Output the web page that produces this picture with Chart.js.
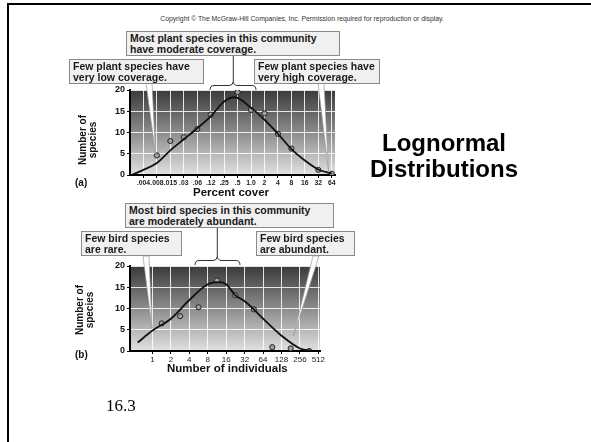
<!DOCTYPE html>
<html>
<head>
<meta charset="utf-8">
<script src="https://cdn.jsdelivr.net/npm/chart.js@4"></script>
<style>
  body { margin: 0; background: #fff; width: 591px; height: 442px; overflow: hidden; position: relative; font-family: "Liberation Sans", Arial, sans-serif; }
  .abs { position: absolute; }
  canvas { position: absolute; }
  .box { position: absolute; background: #f0f0f0; border: 1px solid #8a8a8a; box-sizing: border-box; font-weight: bold; font-size: 10.5px; line-height: 11px; color: #1a1a1a; padding: 1px 3px; white-space: nowrap; }
  .lbl { position: absolute; font-weight: bold; color: #111; white-space: nowrap; }
  .ytitle { position: absolute; font-weight: bold; font-size: 10px; line-height: 10px; text-align: center; color: #111; transform: rotate(-90deg); white-space: nowrap; }
</style>
</head>
<body>
<div class="abs" style="left:7px;top:3px;width:584px;height:2px;background:#000"></div>
<div class="abs" style="left:7px;top:3px;width:2px;height:439px;background:#000"></div>

<div class="lbl" style="left:155px;top:15px;width:294px;text-align:center;font-size:6.8px;font-weight:normal;color:#333">Copyright © The McGraw-Hill Companies, Inc. Permission required for reproduction or display.</div>

<canvas id="plantChart" width="290" height="167" style="left:60px;top:20px"></canvas>
<canvas id="birdChart" width="275" height="163" style="left:60px;top:200px"></canvas>

<svg class="abs" style="left:0;top:0" width="591" height="442">
  <g fill="#fff" stroke="#9a9a9a" stroke-width="0.7">
    <polygon points="146,83 152,83 155.5,154"/>
    <polygon points="318,83 324,83 328.5,171"/>
    <polygon points="143,256 149,256 152,328"/>
    <polygon points="313,256 319,256 293.5,336"/>
  </g>
  <g fill="none" stroke="#333" stroke-width="1">
    <path d="M210,90 Q210,85.5 214,85.5 L229,85.5 Q233,85.5 233.3,81.5 Q233.6,85.5 238,85.5 L252,85.5 Q256,85.5 256,90"/>
    <line x1="233.3" y1="55" x2="233.3" y2="81.5"/>
    <path d="M195,265 Q195,260.5 199,260.5 L213,260.5 Q217,260.5 217.3,256.5 Q217.6,260.5 222,260.5 L236,260.5 Q240,260.5 240,265"/>
    <line x1="217.3" y1="227" x2="217.3" y2="256.5"/>
  </g>
</svg>

<div class="box" style="left:126px;top:31px;width:214px;height:25px">Most plant species in this community<br>have moderate coverage.</div>
<div class="box" style="left:69px;top:59px;width:135px;height:25px">Few plant species have<br>very low coverage.</div>
<div class="box" style="left:254px;top:59px;width:126px;height:25px">Few plant species have<br>very high coverage.</div>

<div class="box" style="left:125px;top:203px;width:209px;height:25px">Most bird species in this community<br>are moderately abundant.</div>
<div class="box" style="left:81px;top:231px;width:101px;height:25px">Few bird species<br>are rare.</div>
<div class="box" style="left:256px;top:231px;width:99px;height:25px">Few bird species<br>are abundant.</div>

<div class="ytitle" style="left:58px;top:130px;width:60px">Number of<br>species</div>
<div class="lbl" style="left:75px;top:177px;font-size:10px">(a)</div>
<div class="lbl" style="left:193px;top:186px;font-size:11.5px">Percent cover</div>

<div class="ytitle" style="left:55px;top:300px;width:60px">Number of<br>species</div>
<div class="lbl" style="left:75px;top:349px;font-size:10px">(b)</div>
<div class="lbl" style="left:167px;top:362px;font-size:11.5px">Number of individuals</div>

<div class="lbl" style="left:341px;top:130px;width:206px;text-align:center;font-size:24px;line-height:26px;color:#000">Lognormal<br>Distributions</div>

<div class="abs" style="left:106px;top:396px;font-family:'Liberation Serif','Times New Roman',serif;font-size:17px;color:#000">16.3</div>

<script>
// (a) plants: percent cover classes (log2 steps)
const coverLabels = ['.004', '.008', '.015', '.03', '.06', '.12', '.25', '.5', '1.0', '2', '4', '8', '16', '32', '64'];
const plantPointX = [1, 2, 3, 4, 5, 7, 8, 9, 10, 11, 13, 14];
const plantPointY = [4.6, 8, 8.9, 10.8, 14.2, 19.5, 15.3, 14.5, 9.7, 6.2, 1.2, 0.3];
const plantCurveX = [-0.9, 0, 1, 2, 3, 4, 5, 6, 6.8, 8, 9, 10, 11, 12, 13, 14];
const plantCurveY = [0, 1.2, 2.8, 5.8, 8.4, 11, 13.8, 17.3, 18.3, 15.8, 13, 9.7, 6.1, 3.4, 1.3, 0.3];

// (b) birds: number of individuals (log2 steps)
const birdLabels = ['1', '2', '4', '8', '16', '32', '64', '128', '256', '512'];
const birdPointX = [0.5, 1.5, 2.5, 3.5, 4.5, 5.5, 6.5, 7.5, 8.5];
const birdPointY = [6.5, 8.2, 10.3, 16.6, 13.1, 9.8, 0.9, 0.6, 0];
const birdCurveX = [-0.8, 0, 1, 2, 3, 3.6, 4, 4.5, 5, 5.5, 6, 7, 8, 8.7];
const birdCurveY = [2, 4.8, 7.6, 12, 15.7, 16.2, 15.7, 13.1, 11.7, 9.8, 7.6, 3.6, 0.6, 0];

const yTicks = [0, 5, 10, 15, 20];

const shadedArea = {
    id: 'shadedArea',
    beforeDraw(chart) {
        const { ctx, chartArea: a } = chart;
        const g = ctx.createLinearGradient(0, a.top, 0, a.bottom);
        g.addColorStop(0, '#3a3a3a');
        g.addColorStop(0.5, '#8c8c8c');
        g.addColorStop(1, '#e2e2e2');
        ctx.save();
        ctx.fillStyle = g;
        ctx.fillRect(a.left, a.top, a.right - a.left, a.bottom - a.top);
        ctx.restore();
    }
};

function toXY(xs, ys) {
    return xs.map((x, i) => ({ x: x, y: ys[i] }));
}

function dessinerGraphe(id, labels, px, py, cx, cy, xMin, xMax, pad, xFont) {
    const ctx = document.getElementById(id).getContext('2d');
    new Chart(ctx, {
        type: 'scatter',
        data: {
            datasets: [{
                data: toXY(cx, cy),
                showLine: true,
                cubicInterpolationMode: 'monotone',
                borderColor: '#111',
                borderWidth: 1.8,
                pointRadius: 0
            }, {
                data: toXY(px, py),
                pointRadius: 2.6,
                backgroundColor: '#a0a0a0',
                borderColor: '#222',
                borderWidth: 1
            }]
        },
        options: {
            responsive: false,
            animation: false,
            devicePixelRatio: 1,
            layout: { padding: pad },
            plugins: { legend: { display: false }, tooltip: { enabled: false } },
            scales: {
                x: {
                    type: 'linear',
                    min: xMin,
                    max: xMax,
                    afterBuildTicks: (scale) => { scale.ticks = labels.map((_, i) => ({ value: i })); },
                    afterFit: (scale) => { scale.height = 12; },
                    grid: { color: 'rgba(255,255,255,0.85)', lineWidth: 1, tickColor: '#000', tickLength: 3 },
                    border: { color: '#000', width: 2 },
                    ticks: {
                        autoSkip: false, maxRotation: 0, padding: 1,
                        color: '#222', font: xFont,
                        callback: (v) => labels[v]
                    }
                },
                y: {
                    min: 0,
                    max: 20,
                    afterBuildTicks: (scale) => { scale.ticks = yTicks.map(v => ({ value: v })); },
                    afterFit: (scale) => { scale.width = 20; },
                    grid: { color: 'rgba(255,255,255,0.85)', lineWidth: 1, tickColor: '#000', tickLength: 3 },
                    border: { color: '#000', width: 2 },
                    ticks: { padding: 2, color: '#111', font: { family: 'Liberation Sans', size: 9, weight: 'bold' } }
                }
            }
        },
        plugins: [shadedArea]
    });
}

dessinerGraphe('plantChart', coverLabels, plantPointX, plantPointY, plantCurveX, plantCurveY,
    -1, 14.24, { left: 50, top: 70, right: 15, bottom: 0 },
    { family: 'Liberation Sans', size: 6.8, weight: 'bold' });

dessinerGraphe('birdChart', birdLabels, birdPointX, birdPointY, birdCurveX, birdCurveY,
    -1.22, 9.09, { left: 50, top: 66, right: 15, bottom: 0 },
    { family: 'Liberation Sans', size: 8 });
</script>
</body>
</html>
